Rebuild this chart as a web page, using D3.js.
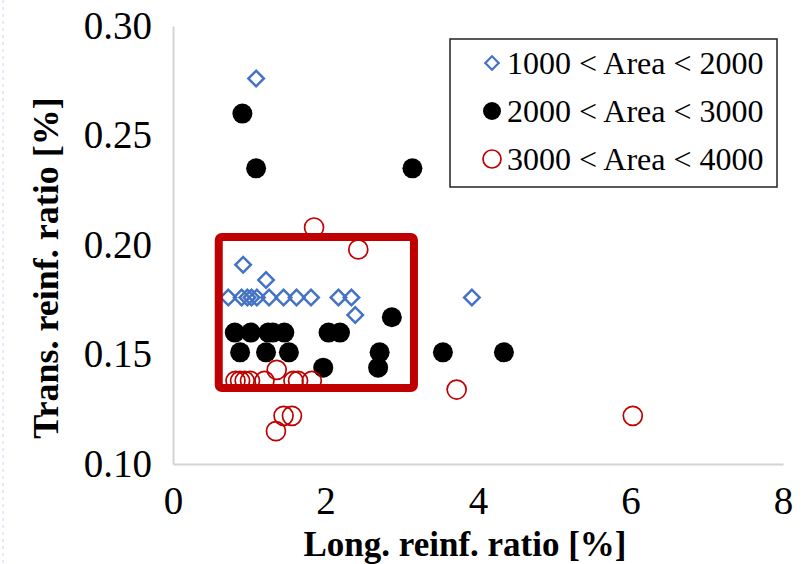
<!DOCTYPE html>
<html>
<head>
<meta charset="utf-8">
<script src="https://cdn.jsdelivr.net/npm/d3@7"></script>
<style>
  body { margin: 0; background: #fff; }
  svg { display: block; font-family: "Liberation Serif", "Times New Roman", serif; }
</style>
</head>
<body>
<svg id="chart" width="805" height="564"></svg>
<script>
// data: [long. ratio %, trans. ratio %]
var seriesNames = ['1000 < Area < 2000', '2000 < Area < 3000', '3000 < Area < 4000'];

var area1000 = [
    [1.09, 0.276], [0.92, 0.191], [1.22, 0.184],
    [0.725, 0.176], [0.90, 0.176], [0.975, 0.176], [1.03, 0.176], [1.10, 0.176],
    [1.26, 0.176], [1.45, 0.176], [1.62, 0.176], [1.81, 0.176], [2.17, 0.176],
    [2.34, 0.176], [2.39, 0.168], [3.92, 0.176]
];

var area2000 = [
    [0.91, 0.260], [1.09, 0.235], [3.14, 0.235],
    [0.81, 0.160], [1.02, 0.160], [1.25, 0.160], [1.31, 0.160], [1.46, 0.160],
    [2.04, 0.160], [2.19, 0.160], [2.87, 0.167],
    [0.88, 0.151], [1.22, 0.151], [1.52, 0.151], [2.71, 0.151], [3.54, 0.151], [4.34, 0.151],
    [1.97, 0.144], [2.69, 0.144]
];

var area3000 = [
    [1.85, 0.208], [2.43, 0.198], [1.36, 0.143],
    [0.82, 0.138], [0.88, 0.138], [0.94, 0.138], [1.01, 0.138], [1.20, 0.138],
    [1.58, 0.138], [1.64, 0.138], [1.82, 0.138],
    [1.45, 0.122], [1.56, 0.122], [1.35, 0.115], [3.72, 0.134], [6.03, 0.122]
];

var xTicks = [0, 2, 4, 6, 8];
var yTicks = [0.10, 0.15, 0.20, 0.25, 0.30];

// highlighted zone (data units): x from..to, y from..to
var boxX = [0.60, 3.16];
var boxY = [0.1347, 0.2037];

var svg = d3.select('#chart');

var x = d3.scaleLinear().domain([0, 8]).range([173, 783]);
var y = d3.scaleLinear().domain([0.10, 0.30]).range([464, 26]);

// faint slide edge on the far left
svg.append('line')
    .attr('x1', 3).attr('x2', 3)
    .attr('y1', 0).attr('y2', 564)
    .attr('stroke', '#c9d6ee')
    .attr('stroke-width', 1)
    .attr('stroke-dasharray', '3,4');

var xAxis = svg.append('g')
    .attr('transform', 'translate(0,' + y(0.10) + ')')
    .call(d3.axisBottom(x).tickValues(xTicks).tickSize(0).tickSizeOuter(0).tickPadding(22)
        .tickFormat(d3.format('d')));

var yAxis = svg.append('g')
    .attr('transform', 'translate(' + x(0) + ',0)')
    .call(d3.axisLeft(y).tickValues(yTicks).tickSize(0).tickSizeOuter(0).tickPadding(21)
        .tickFormat(d3.format('.2f')));

[xAxis, yAxis].forEach(function(a) {
    a.select('.domain').attr('stroke', '#d4d4d4').attr('stroke-width', 2);
    a.selectAll('text')
        .attr('font-family', '"Liberation Serif", "Times New Roman", serif')
        .attr('font-size', 39)
        .attr('fill', '#000');
});

svg.append('text')
    .attr('x', 465)
    .attr('y', 556)
    .attr('text-anchor', 'middle')
    .attr('font-size', 35)
    .attr('font-weight', 'bold')
    .text('Long. reinf. ratio [%]');

svg.append('text')
    .attr('transform', 'translate(58,268) rotate(-90)')
    .attr('text-anchor', 'middle')
    .attr('font-size', 36)
    .attr('font-weight', 'bold')
    .text('Trans. reinf. ratio [%]');

var diamond = d3.symbol().type(d3.symbolSquare).size(120);

function drawSeries(data, kind) {
    var g = svg.append('g');
    var sel = g.selectAll('.pt').data(data).enter();
    if (kind === 0) {
        sel.append('path')
            .attr('d', diamond)
            .attr('transform', function(d) {
                return 'translate(' + x(d[0]) + ',' + y(d[1]) + ') rotate(45)';
            })
            .attr('fill', 'none')
            .attr('stroke', '#4472C4')
            .attr('stroke-width', 2.5);
    } else if (kind === 1) {
        sel.append('circle')
            .attr('cx', function(d) { return x(d[0]); })
            .attr('cy', function(d) { return y(d[1]); })
            .attr('r', 10)
            .attr('fill', '#000');
    } else {
        sel.append('circle')
            .attr('cx', function(d) { return x(d[0]); })
            .attr('cy', function(d) { return y(d[1]); })
            .attr('r', 9.5)
            .attr('fill', 'none')
            .attr('stroke', '#C00000')
            .attr('stroke-width', 1.7);
    }
}

drawSeries(area1000, 0);
drawSeries(area2000, 1);
drawSeries(area3000, 2);

svg.append('rect')
    .attr('x', x(boxX[0]))
    .attr('y', y(boxY[1]))
    .attr('width', x(boxX[1]) - x(boxX[0]))
    .attr('height', y(boxY[0]) - y(boxY[1]))
    .attr('rx', 3)
    .attr('fill', 'none')
    .attr('stroke', '#C00000')
    .attr('stroke-width', 8);

// legend
var legend = svg.append('g').attr('transform', 'translate(450,39)');
legend.append('rect')
    .attr('width', 327)
    .attr('height', 148)
    .attr('fill', '#fff')
    .attr('stroke', '#222')
    .attr('stroke-width', 1.5);

var rows = legend.selectAll('.row')
    .data(seriesNames)
    .enter().append('g')
    .attr('transform', function(d, i) { return 'translate(0,' + (24 + i * 48) + ')'; });

rows.each(function(d, i) {
    var r = d3.select(this);
    if (i === 0) {
        r.append('path')
            .attr('d', d3.symbol().type(d3.symbolSquare).size(90))
            .attr('transform', 'translate(42,0) rotate(45)')
            .attr('fill', 'none')
            .attr('stroke', '#4472C4')
            .attr('stroke-width', 2.2);
    } else if (i === 1) {
        r.append('circle').attr('cx', 42).attr('r', 9).attr('fill', '#000');
    } else {
        r.append('circle').attr('cx', 42).attr('r', 9)
            .attr('fill', 'none').attr('stroke', '#C00000').attr('stroke-width', 1.7);
    }
    r.append('text')
        .attr('x', 57)
        .attr('y', 0)
        .attr('dy', '0.35em')
        .attr('font-size', 32)
        .text(d);
});
</script>
</body>
</html>
